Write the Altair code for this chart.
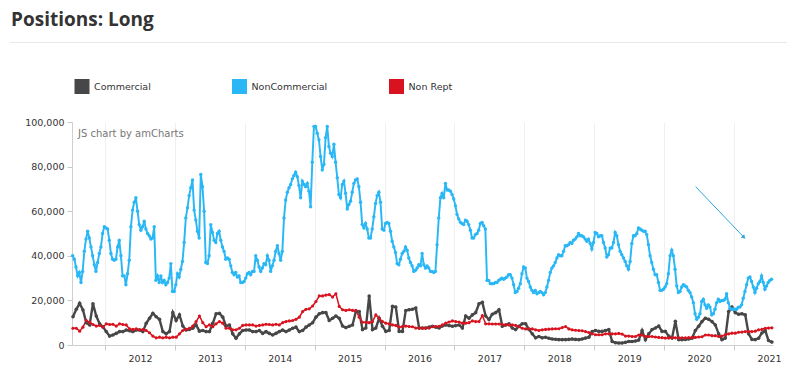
import altair as alt
import pandas as pd

SERIES = ["Commercial", "NonCommercial", "Non Rept"]
COLORS = ["#474747", "#2ab7f5", "#d8131f"]
YEARS = [2012, 2013, 2014, 2015, 2016, 2017, 2018, 2019, 2020, 2021]
Y_TICKS = [0, 20000, 40000, 60000, 80000, 100000]

# Long positions, in thousands of contracts
# NonCommercial: regular samples every 1/42 year starting mid-2011
noncommercial = [
    40, 38.5, 35, 31, 32.5, 28, 33, 42, 47.5, 51,
    48, 44, 40, 36, 33, 37, 41, 44, 50, 53,
    52.5, 52, 47, 41, 38.5, 38, 38.5, 44, 47, 40,
    31, 31, 27, 32, 38, 53, 60.5, 64, 66, 60,
    54, 51.5, 53, 55.5, 52, 50, 49, 47.5, 48, 53,
    29, 31, 28, 31, 28, 29, 27, 28, 30, 36.5,
    24, 24, 27, 32, 30.5, 34, 37.5, 46, 57, 61.5,
    67, 70.5, 74, 60.5, 56, 51, 48, 76.5, 71, 60,
    37, 36.5, 40, 54, 50.5, 47, 46, 50, 51, 47,
    44, 42, 38.5, 39, 38.5, 35.5, 32.5, 31.5, 32.5, 30.5,
    31, 28, 28, 28.5, 30, 32, 32.5, 31.5, 33, 33,
    40, 38, 35,
    33, 34.5, 36.5, 36, 40, 38, 33, 35.5, 38, 42,
    44.5, 41, 38, 42, 57, 65, 68.5, 70.5, 72, 74.5,
    76, 77.5, 75.5, 71.5, 66, 73.5, 72, 71, 72.5, 69,
    62, 82, 98, 98, 95, 92, 84.5, 78.5, 81, 93,
    98, 89, 86, 84.5, 90, 82, 75, 67.5, 66, 72,
    73.5, 68, 61, 63, 64.5, 68.5, 72.5, 74, 74.5, 71,
    64, 54, 52.5, 54.5, 52, 48, 48, 52, 57.5, 63.5,
    67, 68.5, 64, 52, 51.5, 54.5, 55, 54.5, 51, 46.5,
    44, 41.5, 36.5, 36, 38.5, 41, 42, 44, 42.5, 39,
    37, 35.5, 33, 33.5, 34.5, 36, 35.5, 41, 36, 34.5,
    35.5, 34.5, 33, 33, 32.5, 33, 45, 57, 66, 68,
    66, 72.5, 69.5, 69.5, 69, 67.5, 65.5, 62.5, 58.5, 56.5,
    55, 54.5, 54, 56, 55.5, 54, 51.5, 48, 48, 49.5,
    50, 51.5, 54.5, 55, 53.5, 52, 29, 29, 27.5, 27.5,
    27.5, 28, 28, 29, 29.5, 30, 29.5, 30, 30.5, 31.5,
    31.5, 30, 27, 23.5, 24, 25.5,
    27.5, 32, 35, 34.5, 30, 28.5, 26, 24.5, 23.5, 24.5,
    23, 23.5, 24, 23.5, 22.5, 23.5, 26, 29, 32.5, 34.5,
    35.5, 37, 39, 40.5, 40, 40, 42, 44.5, 44.5, 45,
    46, 45.5, 47, 47.5, 48.5, 50, 49, 49, 48.5, 47.5,
    46.5, 47.5, 45.5, 43, 46, 50.5, 50, 48.5, 49, 49,
    46, 43.5, 39.5, 40.5, 43.5, 43.5, 46, 50.5, 49, 45,
    42, 40.5, 39, 37.5, 35.5, 34, 37.5, 45.5, 49, 49,
    50, 52.5, 52, 51.5, 51, 51, 49.5, 45, 40, 37,
    34, 31.5, 31.5, 28, 24.5, 24.5, 25, 26, 27.5, 32,
    40, 42.5, 40, 34, 26.5, 23.5, 24, 26, 27, 26.5,
    26, 24.5, 23.5, 21.5, 19, 14, 11.5, 12.5, 14, 19.5,
    20.5, 18, 16.5, 18, 17, 13.5, 14, 16, 19, 20.5,
    19.5, 20, 20, 20.5, 23, 19, 16.5, 16, 16, 16,
    16, 17, 17, 18, 21, 24, 27, 30, 30.5, 28.5,
    26, 23.5, 25.5, 27.5, 28.5, 31, 28, 25, 26.5, 28,
    29, 29.5,
]

# Commercial and Non Rept: regular samples every 1/21 year starting mid-2011
commercial = [
    12.7, 16, 18.7, 15.7, 10, 9, 18.5, 13, 9.5, 8.2,
    6, 4, 4.5, 5.2, 6, 6, 6.7, 6.4, 6, 6.7,
    6.7, 6, 9.7, 12, 14.2, 12.7, 11.5, 6, 5, 6,
    14.5, 11, 13.5, 8.5, 6.7, 7, 7.5, 9, 6.2, 6.5,
    6, 6, 9.7, 14, 14.2, 12.5, 8.5, 9, 5, 3,
    5, 6.5, 6.7, 6.7, 6, 6, 6.5, 5.2, 6, 5.2,
    4.5, 5.2, 6, 6.7, 6, 6.7, 7.5, 8, 6, 6.5,
    8, 9, 10, 12.5, 14, 14.5, 14.5, 11, 12, 13,
    12, 8.5, 7.8, 8.4, 9, 15, 15, 6.9, 7.6, 22,
    6.9, 7.6, 12, 8.4, 6.1, 6.5, 17.3, 17, 6.1, 6.1,
    15.5, 15.8, 16, 16.6, 7.6, 7.6, 7.6, 8, 8.4, 8,
    7.6, 8.5, 9, 8.7, 8.4, 8.7, 9, 7.6, 13, 12,
    13.5, 14.5, 18.5, 19.1, 13, 11.4, 13.8, 14.5, 15.8, 8.4,
    9, 9.5, 7.6, 6.9, 8.4, 9.5, 9.5, 7, 5, 3.2,
    3.8, 3.2, 3.5, 3, 2.7, 2.6, 2.4, 2.4, 2.4, 2.5,
    2.7, 2.5, 2.4, 2.7, 3.1, 3.5, 6, 6.5, 6.1, 6.1,
    6.5, 6.9, 1.6, 1, 0.9, 0.9, 1.2, 1.6, 1.6, 1.8,
    2.2, 6.5, 2.4, 5, 6.9, 7.6, 8.5, 6.1, 6.1, 4,
    3.1, 10.6, 2.4, 2.4, 2.5, 2.7, 3, 6.5, 8.4, 10.5,
    12, 11.5, 10.5, 9, 5, 2.4, 3.1, 15, 17, 14.5,
    13.8, 14, 13.5, 5, 2.5, 2.4, 3, 5.4, 6.5, 2,
    1.3,
]

non_rept = [
    7.5, 7.5, 6.2, 8, 11, 10.2, 9.2, 8.5, 8.8, 8,
    9.5, 9.2, 9.3, 8.5, 9.5, 9.2, 9, 7.2, 7, 7.2,
    6.8, 6.9, 6.5, 5.5, 4, 3.2, 3.5, 3.2, 3.5, 3.2,
    3.5, 3.5, 5, 6.5, 7, 7.5, 8.5, 10.5, 13, 10,
    8.2, 9, 8.2, 9.5, 10.5, 9.8, 7.5, 7.5, 6.8, 6.8,
    7.5, 8.8, 9, 9, 9, 8.5, 8.8, 9, 9.3, 9.2,
    9, 9.3, 9, 10, 10.5, 10.8, 11, 11.5, 12.5, 15,
    16, 16.2, 17.5, 19.5, 22, 22, 22.4, 22.6, 21.5, 23,
    17.3, 15.8, 15.5, 15.8, 15.5, 15.5, 12.5, 10.2, 10.2, 10,
    10.5, 13.5, 12, 10.5, 9.8, 9.5, 9, 8.8, 8, 8.3,
    8.5, 8.3, 8.2, 7.6, 7.6, 7.5, 7.6, 7.6, 8.2, 8.3,
    8.4, 9, 9.8, 10.3, 10.8, 10.5, 10.3, 9.8, 9.8, 10,
    10.8, 10.5, 10.5, 13.2, 9.5, 9.5, 9.4, 9.4, 9.4, 9.2,
    9, 9, 9, 8.8, 8.2, 7.5, 7.2, 7.3, 7.2, 6.8,
    6.5, 6.8, 7, 7.1, 7.2, 7.3, 7.3, 7.8, 8.3, 7.2,
    6.8, 6.6, 6.5, 6.4, 6, 5.6, 5, 4.6, 4.6, 4.6,
    5, 5, 5, 5, 5.2, 4.9, 4, 4, 3.8, 3.8,
    4.5, 4.5, 3.8, 3.8, 3.8, 3.6, 3.4, 3.3, 3.1, 3.1,
    3.4, 3.2, 3.2, 3.2, 3.2, 3.3, 3.4, 3.4, 3.6, 3.7,
    4.5, 4.5, 4.2, 4.2, 3.8, 4, 4.6, 5, 5.3, 5.3,
    5.7, 5.8, 6, 6, 6, 6.2, 6.8, 7, 7.5, 7.6,
    7.7,
]

NC_START, NC_STEP = 2011.5375, 1 / 42
CN_START, CN_STEP = 2011.542, 1 / 21

# arrow annotation (data coordinates: decimal year, contracts)
ARROW_FROM = (2020.451, 71000)
ARROW_TO = (2021.142, 48300)

rows = []
for name, vals, start, step in [
    ("Commercial", commercial, CN_START, CN_STEP),
    ("NonCommercial", noncommercial, NC_START, NC_STEP),
    ("Non Rept", non_rept, CN_START, CN_STEP),
]:
    for i, v in enumerate(vals):
        rows.append({"t": start + i * step, "value": v * 1000, "series": name})
df = pd.DataFrame(rows)

FONT = "DejaVu Sans"

x_enc = alt.X(
    "t:Q",
    title=None,
    scale=alt.Scale(domain=[2011.528, 2021.558], nice=False, zero=False),
    axis=alt.Axis(
        values=YEARS, format="d", labelOffset=35, grid=True, gridColor="#f0f0f0",
        tickSize=5, tickColor="#c8c8c8", domainColor="#cfcfcf", labelFont=FONT,
        labelFontSize=9.5, labelColor="#333333", labelPadding=3, labelFlush=False,
        labelOverlap=False, labelBound=False,
    ),
)
y_enc = alt.Y(
    "value:Q",
    title=None,
    scale=alt.Scale(domain=[0, 100000], nice=False),
    axis=alt.Axis(
        values=Y_TICKS, format=",d", grid=False, tickSize=5, tickColor="#c8c8c8",
        domainColor="#cfcfcf", labelFont=FONT, labelFontSize=9.5,
        labelColor="#333333", labelPadding=3,
    ),
)
color_scale = alt.Scale(domain=SERIES, range=COLORS)

base = alt.Chart(df)
lines = base.mark_line(interpolate="linear").encode(
    x=x_enc, y=y_enc,
    color=alt.Color("series:N", scale=color_scale, legend=None),
    strokeWidth=alt.StrokeWidth("series:N", scale=alt.Scale(domain=SERIES, range=[2.4, 1.5, 3.0]), legend=None),
    detail="series:N",
)
points = base.mark_circle(opacity=1).encode(
    x=x_enc, y=y_enc,
    color=alt.Color("series:N", scale=color_scale, legend=None),
    size=alt.Size("series:N", scale=alt.Scale(domain=SERIES, range=[13, 10, 15]), legend=None),
)

arrow_df = pd.DataFrame({
    "t": [ARROW_FROM[0]], "value": [ARROW_FROM[1]],
    "t2": [ARROW_TO[0]], "value2": [ARROW_TO[1]],
})
arrow_line = alt.Chart(arrow_df).mark_rule(color="#2aa6de", strokeWidth=1).encode(
    x=alt.X("t:Q", title=None), y=alt.Y("value:Q", title=None), x2="t2:Q", y2="value2:Q"
)
arrow_head = alt.Chart(arrow_df).mark_point(
    shape="triangle-up", filled=True, size=22, angle=136, color="#2aa6de", opacity=1
).encode(x=alt.X("t2:Q", title=None), y=alt.Y("value2:Q", title=None))

text_df = pd.DataFrame({"label": ["JS chart by amCharts"]})
watermark = alt.Chart(text_df).mark_text(
    align="left", baseline="middle", font=FONT, fontSize=10, color="#777777"
).encode(text="label:N", x=alt.value(6), y=alt.value(12))

title_df = pd.DataFrame({"label": ["Positions: Long"]})
title = alt.Chart(title_df).mark_text(
    align="left", baseline="alphabetic", font="Open Sans", fontSize=19,
    fontWeight="bold", color="#333333"
).encode(text="label:N", x=alt.value(-61), y=alt.value(-96))
title_rule = alt.Chart(title_df).mark_rule(color="#e8e8e8", strokeWidth=1).encode(
    x=alt.value(-62), x2=alt.value(718), y=alt.value(-79.5)
)

# legend, drawn as marks (one square + label per series)
LEGEND_X = [10, 167.5, 324.5]
LEGEND_Y = -35.5
legend_layers = []
for name, color, lx in zip(SERIES, COLORS, LEGEND_X):
    ldf = pd.DataFrame({"label": [name]})
    legend_layers.append(
        alt.Chart(ldf).mark_square(size=225, color=color, opacity=1).encode(
            x=alt.value(lx), y=alt.value(LEGEND_Y)
        )
    )
    legend_layers.append(
        alt.Chart(ldf).mark_text(
            align="left", baseline="middle", font=FONT, fontSize=9.5, color="#333333"
        ).encode(text="label:N", x=alt.value(lx + 12), y=alt.value(LEGEND_Y))
    )

chart = alt.layer(
    lines, points, arrow_line, arrow_head, watermark, title, title_rule, *legend_layers
).properties(
    width=701, height=223,
    padding={"left": 64, "top": 114, "right": 14, "bottom": 22},
    autosize=alt.AutoSizeParams(type="none"),
    background="white",
).configure_view(stroke=None)

chart.save("out.html", embed_options={"renderer": "svg", "actions": False})
